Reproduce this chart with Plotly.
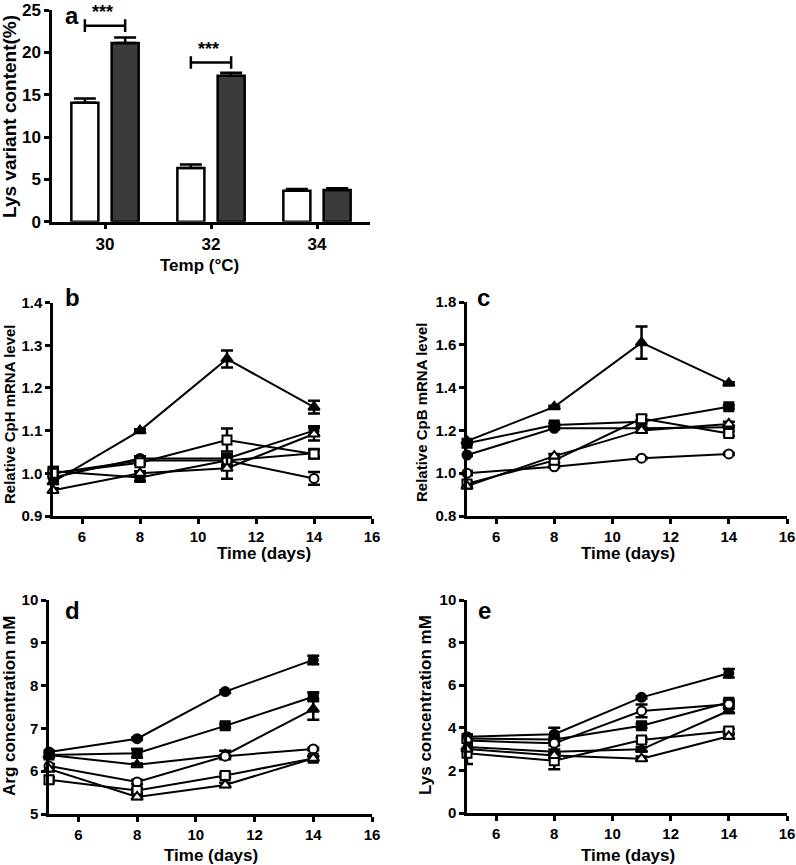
import plotly.graph_objects as go

W, H = 796, 865


def fx(p):
    return p / W


def fy(p):
    return 1 - p / H


FONT = "Liberation Sans"

# ---------------- Panel a data ----------------
temps = ["30", "32", "34"]
white_vals = [14.05, 6.35, 3.65]
white_err = [0.5, 0.4, 0.2]
dark_vals = [21.1, 17.25, 3.75]
dark_err = [0.65, 0.35, 0.2]
sig_groups = [0, 1]
sig_levels = [23.15, 18.8]
sig_labels = ["***", "***"]
a_yticks = [0, 5, 10, 15, 20, 25]

# ---------------- Time-course data ----------------
days = [5, 8, 11, 14]
day_ticks = [6, 8, 10, 12, 14, 16]
series_style = ["filled circle", "filled square", "filled triangle",
                "open circle", "open square", "open triangle"]

b_vals = {
    "filled circle": [0.99, 1.035, 1.035, 1.10],
    "filled square": [1.005, 0.99, 1.03, 1.047],
    "filled triangle": [0.98, 1.10, 1.268, 1.155],
    "open circle": [1.0, 1.03, 1.03, 0.988],
    "open square": [1.0, 1.025, 1.078, 1.045],
    "open triangle": [0.96, 1.0, 1.012, 1.092],
}
b_err = {
    "filled circle": [0.008, 0.005, 0.005, 0.01],
    "filled square": [0.01, 0.008, 0.015, 0.008],
    "filled triangle": [0.005, 0.003, 0.02, 0.015],
    "open circle": [0.005, 0.005, 0.01, 0.015],
    "open square": [0.01, 0.005, 0.027, 0.01],
    "open triangle": [0.005, 0.005, 0.025, 0.015],
}

c_vals = {
    "filled circle": [1.085, 1.21, 1.21, 1.215],
    "filled square": [1.14, 1.225, 1.24, 1.31],
    "filled triangle": [1.15, 1.31, 1.61, 1.42],
    "open circle": [1.0, 1.03, 1.07, 1.09],
    "open square": [0.95, 1.06, 1.255, 1.185],
    "open triangle": [0.94, 1.08, 1.2, 1.23],
}
c_err = {
    "filled circle": [0.005, 0.005, 0.005, 0.005],
    "filled square": [0.005, 0.008, 0.01, 0.008],
    "filled triangle": [0.005, 0.005, 0.075, 0.005],
    "open circle": [0.01, 0.005, 0.005, 0.005],
    "open square": [0.01, 0.01, 0.015, 0.01],
    "open triangle": [0.01, 0.01, 0.01, 0.01],
}

d_vals = {
    "filled circle": [6.45, 6.76, 7.86, 8.6],
    "filled square": [6.38, 6.42, 7.06, 7.74],
    "filled triangle": [6.38, 6.15, 6.38, 7.45],
    "open circle": [6.12, 5.75, 6.35, 6.52],
    "open square": [5.8, 5.55, 5.9, 6.3],
    "open triangle": [6.05, 5.4, 5.68, 6.3],
}
d_err = {
    "filled circle": [0.03, 0.03, 0.03, 0.1],
    "filled square": [0.03, 0.1, 0.04, 0.1],
    "filled triangle": [0.03, 0.03, 0.1, 0.25],
    "open circle": [0.05, 0.05, 0.03, 0.03],
    "open square": [0.05, 0.05, 0.05, 0.05],
    "open triangle": [0.05, 0.05, 0.05, 0.05],
}

e_vals = {
    "filled circle": [3.58, 3.7, 5.43, 6.56],
    "filled square": [3.5, 3.45, 4.1, 5.2],
    "filled triangle": [3.1, 2.88, 2.99, 4.8],
    "open circle": [3.4, 3.27, 4.79, 5.1],
    "open square": [2.8, 2.45, 3.43, 3.85],
    "open triangle": [3.0, 2.7, 2.55, 3.6],
}
e_err = {
    "filled circle": [0.1, 0.3, 0.05, 0.2],
    "filled square": [0.1, 0.1, 0.1, 0.1],
    "filled triangle": [0.1, 0.1, 0.1, 0.1],
    "open circle": [0.1, 0.1, 0.3, 0.1],
    "open square": [0.5, 0.4, 0.1, 0.1],
    "open triangle": [0.1, 0.1, 0.1, 0.1],
}

yticks = {
    "b": [0.9, 1.0, 1.1, 1.2, 1.3, 1.4],
    "c": [0.8, 1.0, 1.2, 1.4, 1.6, 1.8],
    "d": [5, 6, 7, 8, 9, 10],
    "e": [0, 2, 4, 6, 8, 10],
}
ytick_fmt = {"b": "{:.1f}", "c": "{:.1f}", "d": "{:d}", "e": "{:d}"}

# ---------------- Layout geometry (pixels) ----------------
panels = {
    # name: (x0, x1, ytop, ybottom)
    "a": (52, 370, 10, 221.7),
    "b": (53, 372, 302.6, 516),
    "c": (467, 787, 302, 516),
    "d": (49, 372, 600, 814),
    "e": (467, 787, 600, 813),
}

fig = go.Figure()

marker_map = {
    "filled circle": dict(symbol="circle", color="black", size=9),
    "filled square": dict(symbol="square", color="black", size=9),
    "filled triangle": dict(symbol="triangle-up", color="black", size=10),
    "open circle": dict(symbol="circle", color="white", size=9),
    "open square": dict(symbol="square", color="white", size=9),
    "open triangle": dict(symbol="triangle-up", color="white", size=10),
}

# Panel a bars
group_idx = list(range(len(temps)))
bar_off = 0.19
bar_w = 0.255
fig.add_trace(go.Bar(
    x=[i - bar_off for i in group_idx], y=white_vals, width=bar_w,
    marker=dict(color="white", line=dict(color="black", width=2.5)),
    error_y=dict(type="data", array=white_err, arrayminus=[0] * 3,
                 symmetric=False, color="black", thickness=2.5, width=11),
    xaxis="x", yaxis="y", showlegend=False,
))
fig.add_trace(go.Bar(
    x=[i + bar_off for i in group_idx], y=dark_vals, width=bar_w,
    marker=dict(color="#3b3b3b", line=dict(color="black", width=2.5)),
    error_y=dict(type="data", array=dark_err, arrayminus=[0] * 3,
                 symmetric=False, color="black", thickness=2.5, width=11),
    xaxis="x", yaxis="y", showlegend=False,
))

# significance brackets
for g, lvl, lab in zip(sig_groups, sig_levels, sig_labels):
    xl, xr = g - bar_off, g + bar_off
    fig.add_shape(type="line", xref="x", yref="y", x0=xl, x1=xr, y0=lvl, y1=lvl,
                  line=dict(color="black", width=2.5))
    for xe in (xl, xr):
        fig.add_shape(type="line", xref="x", yref="y", x0=xe, x1=xe,
                      y0=lvl - 0.75, y1=lvl + 0.75, line=dict(color="black", width=2.5))
    fig.add_annotation(x=g - 0.02, y=lvl + 0.2, xref="x", yref="y", text="<b>" + lab + "</b>",
                       showarrow=False, yanchor="bottom",
                       font=dict(family=FONT, size=18, color="black"))

# Line panels
line_panels = [("b", b_vals, b_err, 2), ("c", c_vals, c_err, 3),
               ("d", d_vals, d_err, 4), ("e", e_vals, e_err, 5)]
for name, vals, errs, k in line_panels:
    for s in series_style:
        m = marker_map[s]
        fig.add_trace(go.Scatter(
            x=days, y=vals[s], mode="lines+markers",
            line=dict(color="black", width=2),
            marker=dict(symbol=m["symbol"], color=m["color"], size=m["size"],
                        line=dict(color="black", width=2)),
            error_y=dict(type="data", array=errs[s], color="black",
                         thickness=2.5, width=6),
            xaxis=f"x{k}", yaxis=f"y{k}", showlegend=False, cliponaxis=False,
        ))


def bold(labels):
    return ["<b>" + str(t) + "</b>" for t in labels]


axis_common = dict(showline=True, linecolor="black", linewidth=2.5,
                   ticks="outside", tickcolor="black", tickwidth=2.5, ticklen=5,
                   showgrid=False, zeroline=False, automargin=False,
                   tickfont=dict(family=FONT, size=15, color="black"))

layout = dict(width=W, height=H, margin=dict(l=0, r=0, t=0, b=0, autoexpand=False),
              plot_bgcolor="white", paper_bgcolor="white", barmode="overlay",
              showlegend=False)

# panel a axes
x0, x1, yt, yb = panels["a"]
layout["xaxis"] = dict(axis_common, domain=[fx(x0), fx(x1)], range=[-0.5, 2.5],
                       tickvals=group_idx, ticktext=bold(temps), anchor="y",
                       tickfont=dict(family=FONT, size=17, color="black"))
layout["yaxis"] = dict(axis_common, domain=[fy(yb), fy(yt)], range=[0, 25],
                       tickvals=a_yticks, ticktext=bold(a_yticks), anchor="x",
                       tickfont=dict(family=FONT, size=17, color="black"))

for name, _, _, k in line_panels:
    x0, x1, yt, yb = panels[name]
    tv = yticks[name]
    layout[f"xaxis{k}"] = dict(axis_common, domain=[fx(x0), fx(x1)], range=[5, 16],
                               tickvals=day_ticks, ticktext=bold(day_ticks), anchor=f"y{k}")
    layout[f"yaxis{k}"] = dict(axis_common, domain=[fy(yb), fy(yt)], range=[tv[0], tv[-1]],
                               tickvals=tv,
                               ticktext=bold([ytick_fmt[name].format(v) for v in tv]),
                               anchor=f"x{k}")

fig.update_layout(**layout)

# titles as annotations
titles = [
    ("Lys variant content(%)", 10, 117, 19, -90),
    ("Temp (°C)", 200, 265, 17, 0),
    ("Relative CpH mRNA level", 9, 414, 15, -90),
    ("Time (days)", 264, 553, 17, 0),
    ("Relative CpB mRNA level", 421, 412, 15, -90),
    ("Time (days)", 628, 553, 17, 0),
    ("Arg concentration mM", 9, 706, 17, -90),
    ("Time (days)", 211, 855, 17, 0),
    ("Lys concentration mM", 425, 705, 17, -90),
    ("Time (days)", 628, 855, 17, 0),
]
for txt, px, py, sz, ang in titles:
    fig.add_annotation(x=fx(px), y=fy(py), xref="paper", yref="paper", text="<b>" + txt + "</b>",
                       showarrow=False, textangle=ang, xanchor="center", yanchor="middle",
                       font=dict(family=FONT, size=sz, color="black"))

# panel letters: (text, x px, y px, vertical anchor)
panel_labels = [("a", 72, 0, "top"), ("b", 72, 298, "middle"), ("c", 483, 298, "middle"),
                ("d", 72, 610, "middle"), ("e", 485, 610, "middle")]
for txt, px, py, va in panel_labels:
    fig.add_annotation(x=fx(px), y=fy(py), xref="paper", yref="paper", text="<b>" + txt + "</b>",
                       showarrow=False, xanchor="center", yanchor=va,
                       font=dict(family=FONT, size=24, color="black"))

fig.write_html("out.html", config={"displayModeBar": False},
               post_script="document.body.style.margin='0';document.body.style.overflow='hidden';")
